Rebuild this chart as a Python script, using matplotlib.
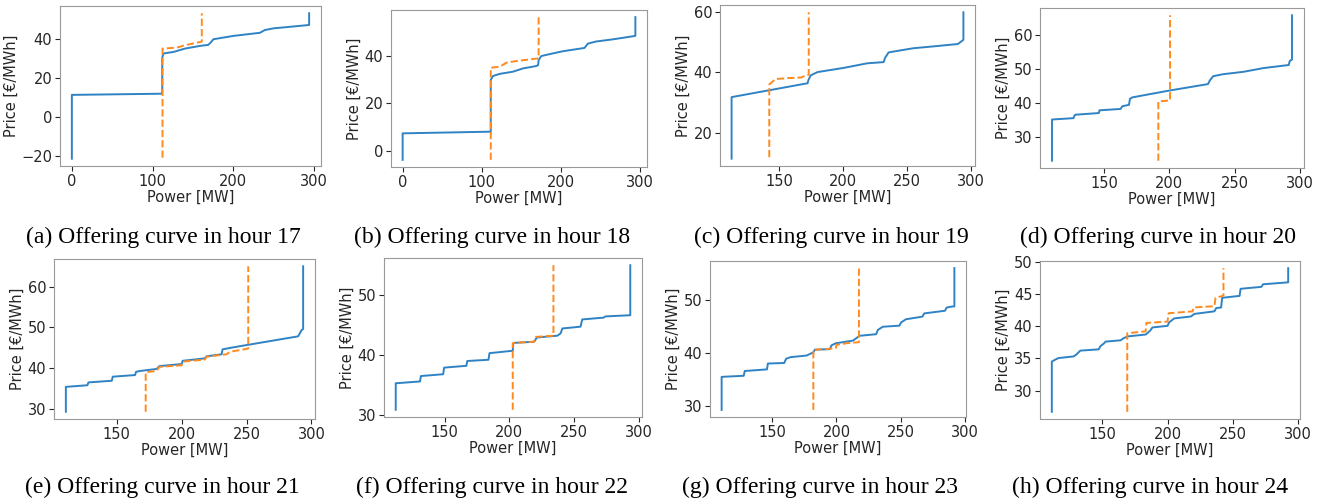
import numpy as np
import matplotlib.pyplot as plt

hours = [17, 18, 19, 20, 21, 22, 23, 24]
letters = ['a', 'b', 'c', 'd', 'e', 'f', 'g', 'h']

# market supply curve (blue) and offering curve (orange, dashed), per hour
market_x_17 = [0, 0, 111.4, 112, 112, 113.5, 126, 140, 159, 169, 172, 175.4, 184, 200, 233, 239, 250, 266, 294, 294]
market_y_17 = [-21.5, 11.2, 11.8, 12, 30.3, 32.4, 33.2, 34.9, 36.3, 36.8, 38, 39.7, 40.3, 41.4, 43, 44.4, 45.3, 45.9, 47, 53]
offer_x_17 = [112.3, 112.3, 130, 140, 161, 161]
offer_y_17 = [-21, 34.9, 35.4, 36.6, 38.5, 53]

market_x_18 = [0, 0, 111.2, 111.2, 114, 122.5, 139, 152, 168.7, 171, 171.6, 175, 185.5, 202, 229.5, 233.7, 244, 265, 292.5, 293.7, 293.7]
market_y_18 = [-3.75, 7.4, 8.1, 29.9, 31.5, 32.4, 33.3, 34.7, 35.7, 36.1, 38.2, 39.9, 40.7, 41.9, 43.3, 45.1, 46, 46.9, 48.3, 48.4, 56.25]
offer_x_18 = [111.2, 111.2, 122.5, 131, 143.5, 170.8, 171.6, 171.6]
offer_y_18 = [-3.75, 35, 35.4, 37.1, 37.8, 38.9, 39, 56.25]

market_x_19 = [112.5, 112.5, 172, 172.7, 174.4, 179.8, 200.5, 218.6, 231.5, 232.8, 235.4, 239.3, 254.8, 270.3, 289.7, 292.2, 294, 294]
market_y_19 = [11.4, 31.8, 36.4, 37.5, 39, 40.1, 41.5, 43, 43.4, 44.9, 46.6, 46.9, 48, 48.6, 49.4, 50.2, 50.8, 59.9]
offer_x_19 = [142, 142, 147, 156.6, 166.9, 170.8, 172.9, 172.9]
offer_y_19 = [11.9, 36, 37.8, 38.1, 38.3, 39, 39.2, 59.9]

market_x_20 = [110, 110, 126.5, 127.3, 127.8, 145.9, 146.4, 162.6, 163.9, 169, 169.8, 171.6, 200, 229.6, 230.9, 233.5, 241.2, 256.7, 272.2, 291.5, 292.3, 294, 294]
market_y_20 = [23.1, 35.2, 35.6, 36.4, 36.6, 37.1, 37.9, 38.3, 39.1, 39.5, 41.3, 41.7, 43.7, 45.6, 46.6, 47.9, 48.5, 49.2, 50.3, 51.2, 52.4, 52.8, 65.8]
offer_x_20 = [191.5, 191.5, 200.5, 200.5]
offer_y_20 = [23.1, 40.5, 40.8, 65.8]

market_x_21 = [110.8, 110.8, 127.4, 128.2, 146.2, 146.9, 164.1, 164.9, 167.9, 180.8, 182.8, 200, 200.8, 217.9, 219.2, 230.8, 231.5, 239.7, 252.6, 289.7, 291, 292.3, 293.6, 293.6]
market_y_21 = [29.3, 35.4, 35.8, 36.5, 36.9, 37.9, 38.3, 39.1, 39.3, 39.8, 40.5, 41, 41.8, 42.4, 42.9, 43.4, 44.6, 45.1, 45.8, 47.8, 48.5, 49.3, 49.6, 65]
offer_x_21 = [172.3, 172.3, 180.8, 182.8, 200, 200.8, 217.9, 219.2, 234.6, 237.2, 251.3, 251.3]
offer_y_21 = [29.3, 39, 39.3, 40.3, 40.7, 41.6, 42.1, 42.8, 43.4, 44, 44.8, 65]

market_x_22 = [112, 112, 130.8, 131.5, 148.7, 149.5, 166.7, 167.4, 183.8, 184.6, 202.6, 203.1, 219.2, 221.3, 237.2, 239.7, 241, 255.1, 256.4, 273, 274.4, 293.6, 293.6]
market_y_22 = [30.9, 35.3, 35.6, 36.5, 36.8, 37.9, 38.2, 39, 39.2, 40.3, 40.7, 42, 42.2, 42.9, 43.2, 43.6, 44.4, 44.7, 45.9, 46.2, 46.4, 46.6, 54.9]
offer_x_22 = [202.6, 202.6, 203.1, 219.2, 220.5, 234.1, 234.1]
offer_y_22 = [30.9, 41.9, 42, 42.2, 43, 43.2, 54.9]

market_x_23 = [110.6, 110.6, 127.8, 128.6, 145.9, 146.6, 159.3, 160.8, 164.4, 176.8, 182, 183.2, 194.8, 196.1, 199.5, 212.9, 218, 230.9, 232.2, 236.1, 249, 250.3, 254.1, 267, 268.3, 284.5, 285.8, 290.2, 291.8, 291.8]
market_y_23 = [29.3, 35.5, 35.7, 36.6, 36.9, 38, 38.1, 38.9, 39.2, 39.5, 40.1, 40.6, 40.7, 41.4, 41.8, 42.3, 43.2, 43.5, 44.3, 44.9, 45.1, 45.7, 46.3, 46.8, 47.4, 47.9, 48.5, 48.7, 48.7, 55.9]
offer_x_23 = [182, 182, 192.3, 199.5, 200, 207.7, 217.5, 217.5]
offer_y_23 = [29.3, 40.6, 40.7, 40.9, 41.5, 41.8, 42, 55.9]

market_x_24 = [111.5, 111.5, 114.1, 116.7, 128.2, 130.3, 133.3, 147.4, 148.7, 151.3, 152.6, 164.1, 166.2, 169.2, 183.3, 186.7, 188.5, 200, 201.3, 205.1, 217.9, 220.5, 235.9, 237.2, 241, 241.8, 255.1, 255.9, 271.8, 273.1, 292.3, 292.3]
market_y_24 = [26.7, 34.5, 34.8, 35.05, 35.3, 35.6, 36.2, 36.4, 36.9, 37.3, 37.6, 37.8, 38.1, 38.4, 38.7, 39.3, 39.8, 40.05, 40.6, 41.2, 41.5, 41.9, 42.3, 42.8, 42.9, 44.4, 44.7, 45.8, 46.1, 46.5, 46.8, 49]
offer_x_24 = [169.2, 169.2, 183.3, 183.8, 200, 200.8, 219.2, 220, 235.9, 236.7, 242.3, 242.8, 242.8]
offer_y_24 = [26.7, 38.9, 39.2, 40.5, 40.7, 42, 42.3, 42.9, 43.1, 44.4, 44.7, 44.8, 49]

market_x = [market_x_17, market_x_18, market_x_19, market_x_20, market_x_21, market_x_22, market_x_23, market_x_24]
market_y = [market_y_17, market_y_18, market_y_19, market_y_20, market_y_21, market_y_22, market_y_23, market_y_24]
offer_x = [offer_x_17, offer_x_18, offer_x_19, offer_x_20, offer_x_21, offer_x_22, offer_x_23, offer_x_24]
offer_y = [offer_y_17, offer_y_18, offer_y_19, offer_y_20, offer_y_21, offer_y_22, offer_y_23, offer_y_24]

W, H = 1327, 503
# axes boxes in pixels: left, top, right, bottom
boxes = [(60, 6, 321, 166), (391, 10, 647, 167), (720, 5, 975, 166), (1040, 8, 1304, 168),
         (54, 259, 315, 419), (384, 258, 642, 417), (710, 261, 966, 417), (1040, 261, 1300, 419)]
caption_x = [163, 492, 831, 1158, 162, 492, 820, 1150]
caption_y = [237, 237, 237, 237, 487, 487, 487, 487]

fig = plt.figure(figsize=(W / 100, H / 100), dpi=100)
for i in range(8):
    l, t, r, b = boxes[i]
    ax = fig.add_axes([l / W, 1 - b / H, (r - l) / W, (b - t) / H])
    ax.plot(market_x[i], market_y[i], color='#2f83c4', lw=1.4)
    ax.plot(offer_x[i], offer_y[i], color='#ff8a1f', lw=1.4, ls='--')
    ax.set_xlabel('Power [MW]', fontsize=10.5, color='#262626', labelpad=1)
    ax.set_ylabel('Price [€/MWh]', fontsize=10.5, color='#262626', labelpad=2)
    ax.tick_params(labelsize=10.5, colors='#262626', length=3.5, pad=2)
    for s in ax.spines.values():
        s.set_color('#999999')
    fig.text(caption_x[i] / W, 1 - caption_y[i] / H,
             '(%s) Offering curve in hour %d' % (letters[i], hours[i]),
             family='Liberation Serif', fontsize=17, ha='center', va='center')

fig.savefig('out.png', dpi=100)
